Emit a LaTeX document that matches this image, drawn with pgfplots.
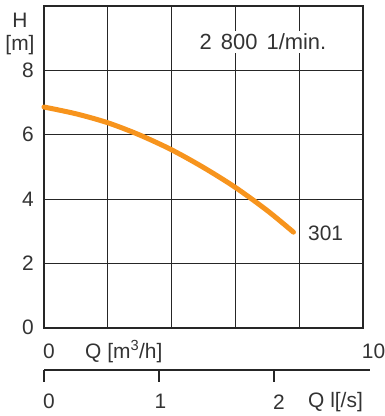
\documentclass[border=0pt]{standalone}
\usepackage{pgfplots}
\pgfplotsset{compat=1.18}
\usepackage{fontspec}
\setmainfont{Liberation Sans}
\definecolor{pumporange}{HTML}{F7941D}
\definecolor{txt}{HTML}{333333}
\newcommand\ff{\fontsize{21}{25}\selectfont}
\begin{document}
\begin{tikzpicture}[font=\ff, text=txt]
\useasboundingbox (-44bp,-88.3bp) rectangle (341bp,327.7bp);
\begin{axis}[
 at={(0,0)}, anchor=south west, scale only axis,
 width=319bp, height=321.7bp,
 xmin=0, xmax=10, ymin=0, ymax=10,
 xtick={2,4,6,8}, xticklabels={},
 ytick={0,2,4,6,8},
 grid=major, major grid style={line width=1bp, color=black!85},
 axis line style={line width=2bp, color=black!85},
 major tick length=0pt,
 tick style={draw=none},
 yticklabel style={font=\ff, anchor=east, inner sep=0pt, xshift=-10bp, text=txt},
 /pgf/number format/assume math mode=true,
 clip=false,
]
\addplot[pumporange, line width=5bp, line cap=round, smooth] coordinates {
 (0,6.86) (1,6.65) (2,6.37) (3,5.99) (4,5.53) (5,4.98) (6,4.36) (7,3.64) (7.82,2.97)};
\end{axis}
\begin{axis}[
 at={(0,-42.3bp)}, anchor=south west, scale only axis,
 width=326bp, height=10bp,
 xmin=0, xmax=2.835, ymin=0, ymax=1,
 axis x line=bottom, hide y axis,
 axis line style={-, line width=1.3bp, color=black!85},
 xtick={0,1,2}, xticklabels={},
 tick align=outside, major tick length=11.7bp,
 tick style={line width=1.3bp, color=black!85},
]
\addplot[draw=none] coordinates {(0,0) (2.835,1)};
\end{axis}
\node[fill=white, inner sep=3bp, font=\fontsize{22}{26}\selectfont] at (219bp,285.7bp) {2\hspace{3pt} 800\hspace{3pt} 1/min.};
\node[anchor=west, inner sep=0pt] at (264bp,94.4bp) {301};
\node[inner sep=0pt] at (-24bp,307.7bp) {H};
\node[inner sep=0pt] at (-24bp,282.7bp) {[m]};
\node[anchor=west, inner sep=0pt] at (-1bp,-24bp) {0};
\node[anchor=west, inner sep=0pt] at (41bp,-24bp) {Q [m\textsuperscript{3}/h]};
\node[anchor=west, inner sep=0pt] at (317.7bp,-24bp) {10};
\node[anchor=west, inner sep=0pt] at (-1bp,-74bp) {0};
\node[inner sep=0pt] at (116.5bp,-74bp) {1};
\node[anchor=west, inner sep=0pt] at (229bp,-74bp) {2};
\node[anchor=west, inner sep=0pt] at (264bp,-74bp) {Q l[/s]};
\end{tikzpicture}
\end{document}
